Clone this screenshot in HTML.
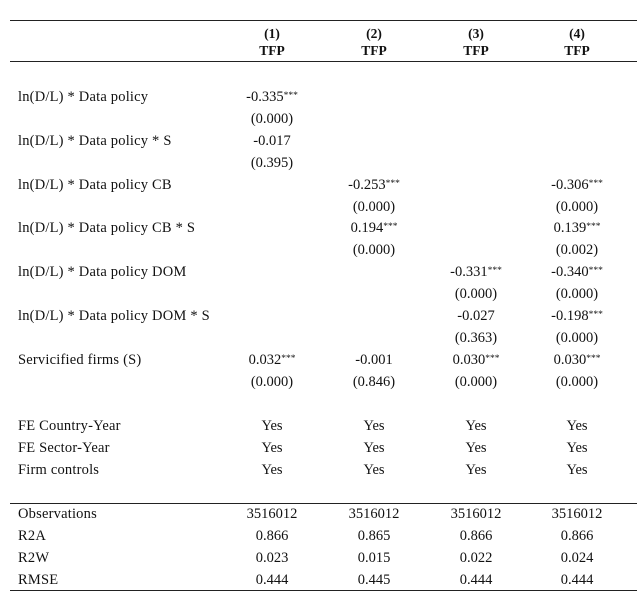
<!DOCTYPE html>
<html><head><meta charset="utf-8"><style>
body{margin:0;width:644px;height:606px;background:#fff;position:relative;font-family:"Liberation Serif",serif;font-size:14.5px;color:#111;overflow:hidden}
.l{position:absolute;left:18px;line-height:22px;white-space:nowrap;letter-spacing:0.2px}
.c{position:absolute;width:100px;text-align:center;line-height:22px;white-space:nowrap}
.h{font-weight:bold;font-size:13.5px}
.hr{position:absolute;left:10px;width:627px;height:0;border-top:1.3px solid #222}
sup{font-size:9.5px;vertical-align:3px;line-height:0}
</style></head><body>
<div class="hr" style="top:20px"></div>
<div class="hr" style="top:61px"></div>
<div class="hr" style="top:503px"></div>
<div class="hr" style="top:590px"></div>
<div id="t"></div>
<script>
var cols=[272,374,476,577];
var rows=[
[34,"",["(1)","(2)","(3)","(4)"],1],
[51,"",["TFP","TFP","TFP","TFP"],1],
[97,"ln(D/L) * Data policy",["-0.335*","","",""]],
[119,"",["(0.000)","","",""]],
[141,"ln(D/L) * Data policy * S",["-0.017","","",""]],
[163,"",["(0.395)","","",""]],
[185,"ln(D/L) * Data policy CB",["","-0.253*","","-0.306*"]],
[207,"",["","(0.000)","","(0.000)"]],
[228,"ln(D/L) * Data policy CB * S",["","0.194*","","0.139*"]],
[250,"",["","(0.000)","","(0.002)"]],
[272,"ln(D/L) * Data policy DOM",["","","-0.331*","-0.340*"]],
[294,"",["","","(0.000)","(0.000)"]],
[316,"ln(D/L) * Data policy DOM * S",["","","-0.027","-0.198*"]],
[338,"",["","","(0.363)","(0.000)"]],
[360,"Servicified firms (S)",["0.032*","-0.001","0.030*","0.030*"]],
[382,"",["(0.000)","(0.846)","(0.000)","(0.000)"]],
[426,"FE Country-Year",["Yes","Yes","Yes","Yes"]],
[448,"FE Sector-Year",["Yes","Yes","Yes","Yes"]],
[470,"Firm controls",["Yes","Yes","Yes","Yes"]],
[514,"Observations",["3516012","3516012","3516012","3516012"]],
[536,"R2A",["0.866","0.865","0.866","0.866"]],
[558,"R2W",["0.023","0.015","0.022","0.024"]],
[580,"RMSE",["0.444","0.445","0.444","0.444"]]
];
var h="";
rows.forEach(function(r){
 var top=r[0]-11;
 if(r[1])h+='<div class="l" style="top:'+top+'px">'+r[1]+'</div>';
 r[2].forEach(function(v,i){
  if(!v)return;
  v=v.replace("*","<sup>***</sup>");
  h+='<div class="c'+(r[3]?' h':'')+'" style="top:'+top+'px;left:'+(cols[i]-50)+'px">'+v+'</div>';
 });
});
document.getElementById("t").innerHTML=h;
</script>
</body></html>
